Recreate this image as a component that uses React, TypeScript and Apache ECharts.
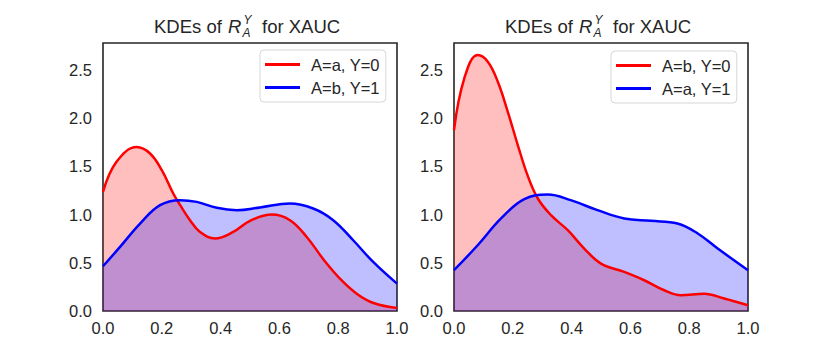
import React, { useEffect, useRef } from "react";
import * as echarts from "echarts";

// Left panel: A=a, Y=0 (red)
const leftRedName = "A=a, Y=0";
const leftRedX = [0, 0.046, 0.1145, 0.16, 0.2, 0.239, 0.262, 0.296, 0.33, 0.381, 0.443, 0.5, 0.574, 0.636, 0.693, 0.75, 0.806, 0.863, 0.92, 1.0];
const leftRedY = [1.236, 1.547, 1.7, 1.634, 1.461, 1.219, 1.1, 0.942, 0.82, 0.752, 0.82, 0.935, 1.0, 0.942, 0.768, 0.535, 0.336, 0.18, 0.083, 0.031];

// Left panel: A=b, Y=1 (blue)
const leftBlueName = "A=b, Y=1";
const leftBlueX = [0, 0.058, 0.126, 0.194, 0.262, 0.319, 0.387, 0.455, 0.534, 0.636, 0.715, 0.783, 0.851, 0.919, 1.0];
const leftBlueY = [0.464, 0.665, 0.907, 1.098, 1.15, 1.132, 1.07, 1.046, 1.074, 1.115, 1.063, 0.942, 0.734, 0.509, 0.284];

// Right panel: A=b, Y=0 (red)
const rightRedName = "A=b, Y=0";
const rightRedX = [0, 0.035, 0.0805, 0.115, 0.149, 0.183, 0.217, 0.25, 0.285, 0.33, 0.387, 0.443, 0.5, 0.579, 0.647, 0.715, 0.772, 0.851, 0.919, 1.0];
const rightRedY = [1.876, 2.413, 2.655, 2.586, 2.378, 2.066, 1.721, 1.409, 1.167, 0.994, 0.838, 0.648, 0.492, 0.405, 0.319, 0.215, 0.163, 0.18, 0.129, 0.059];

// Right panel: A=a, Y=1 (blue)
const rightBlueName = "A=a, Y=1";
const rightBlueX = [0, 0.0805, 0.16, 0.239, 0.319, 0.397, 0.488, 0.579, 0.67, 0.76, 0.829, 0.897, 1.0];
const rightBlueY = [0.423, 0.682, 0.96, 1.16, 1.208, 1.15, 1.046, 0.96, 0.935, 0.907, 0.804, 0.648, 0.423];

const xTicks = [0, 0.2, 0.4, 0.6, 0.8, 1.0];
const yTicks = [0, 0.5, 1.0, 1.5, 2.0, 2.5];
const yMax = 2.78;

const INK = "#262626";
const FONT = "'Liberation Sans', Arial, sans-serif";
const TICK_FS = 16.5;

function pairs(xs: number[], ys: number[]) {
  return xs.map((x, i) => [x, ys[i]]);
}

function series(name: string, xs: number[], ys: number[], color: string, idx: number) {
  return {
    type: "line",
    name,
    xAxisIndex: idx,
    yAxisIndex: idx,
    data: pairs(xs, ys),
    smooth: 0.4,
    symbol: "none",
    color,
    lineStyle: { color, width: 2.5 },
    areaStyle: { color, opacity: 0.25 },
  };
}

function titleParts(dx: number) {
  const base = { fill: INK, fontFamily: FONT };
  const mainY = 26.2;
  return [
    { type: "text", x: 154 + dx, y: mainY, style: { ...base, text: "KDEs of", fontSize: 18.5, verticalAlign: "middle" } },
    { type: "text", x: 228 + dx, y: mainY, style: { ...base, text: "R", fontSize: 18.5, fontStyle: "italic", verticalAlign: "middle" } },
    { type: "text", x: 243.5 + dx, y: 20.1, style: { ...base, text: "Y", fontSize: 12, fontStyle: "italic", verticalAlign: "middle" } },
    { type: "text", x: 242.5 + dx, y: 32.7, style: { ...base, text: "A", fontSize: 12, fontStyle: "italic", verticalAlign: "middle" } },
    { type: "text", x: 262 + dx, y: mainY, style: { ...base, text: "for XAUC", fontSize: 18.5, verticalAlign: "middle" } },
  ];
}

function xAxis(idx: number) {
  return {
    type: "value",
    gridIndex: idx,
    min: xTicks[0],
    max: xTicks[xTicks.length - 1],
    interval: 0.2,
    axisLine: { show: false },
    axisTick: { show: false },
    splitLine: { show: false },
    axisLabel: {
      color: INK,
      fontSize: TICK_FS,
      fontFamily: FONT,
      margin: 8,
      formatter: (v: number) => v.toFixed(1),
    },
  };
}

function yAxis(idx: number) {
  return {
    type: "value",
    gridIndex: idx,
    min: yTicks[0],
    max: yMax,
    interval: 0.5,
    axisLine: { show: false },
    axisTick: { show: false },
    splitLine: { show: false },
    axisLabel: {
      color: INK,
      fontSize: TICK_FS,
      fontFamily: FONT,
      margin: 11,
      formatter: (v: number) =>
        yTicks.some((t) => Math.abs(t - v) < 1e-6) ? v.toFixed(1) : "",
    },
  };
}

function legend(names: string[], left: number, top: number) {
  return {
    orient: "vertical",
    left,
    top,
    data: names,
    icon: "rect",
    itemWidth: 35,
    itemHeight: 3,
    itemGap: 6,
    padding: [6, 6, 6, 5],
    backgroundColor: "#ffffff",
    borderColor: "#d6d6d6",
    borderWidth: 1,
    borderRadius: 4,
    textStyle: { color: INK, fontSize: TICK_FS, fontFamily: FONT, padding: [0, 0, 0, 6] },
  };
}

export default function App() {
  const ref = useRef<HTMLDivElement>(null);
  useEffect(() => {
    if (!ref.current) return;
    const chart = echarts.init(ref.current, undefined, { renderer: "svg" });
    const gridCommon = {
      top: 43,
      width: 294,
      height: 268,
      show: true,
      borderColor: INK,
      borderWidth: 1.6,
      backgroundColor: "transparent",
    };
    chart.setOption({
      animation: false,
      backgroundColor: "#ffffff",
      grid: [
        { ...gridCommon, left: 103 },
        { ...gridCommon, left: 454 },
      ],
      xAxis: [xAxis(0), xAxis(1)],
      yAxis: [yAxis(0), yAxis(1)],
      legend: [
        legend([leftRedName, leftBlueName], 260, 50),
        legend([rightRedName, rightBlueName], 611, 51),
      ],
      series: [
        series(leftRedName, leftRedX, leftRedY, "#ff0000", 0),
        series(leftBlueName, leftBlueX, leftBlueY, "#0000ff", 0),
        series(rightRedName, rightRedX, rightRedY, "#ff0000", 1),
        series(rightBlueName, rightBlueX, rightBlueY, "#0000ff", 1),
      ],
      graphic: [...titleParts(0), ...titleParts(351)],
    });
    return () => chart.dispose();
  }, []);
  return (
    <div
      ref={ref}
      style={{ position: "fixed", left: 0, top: 0, width: 830, height: 356 }}
    />
  );
}
